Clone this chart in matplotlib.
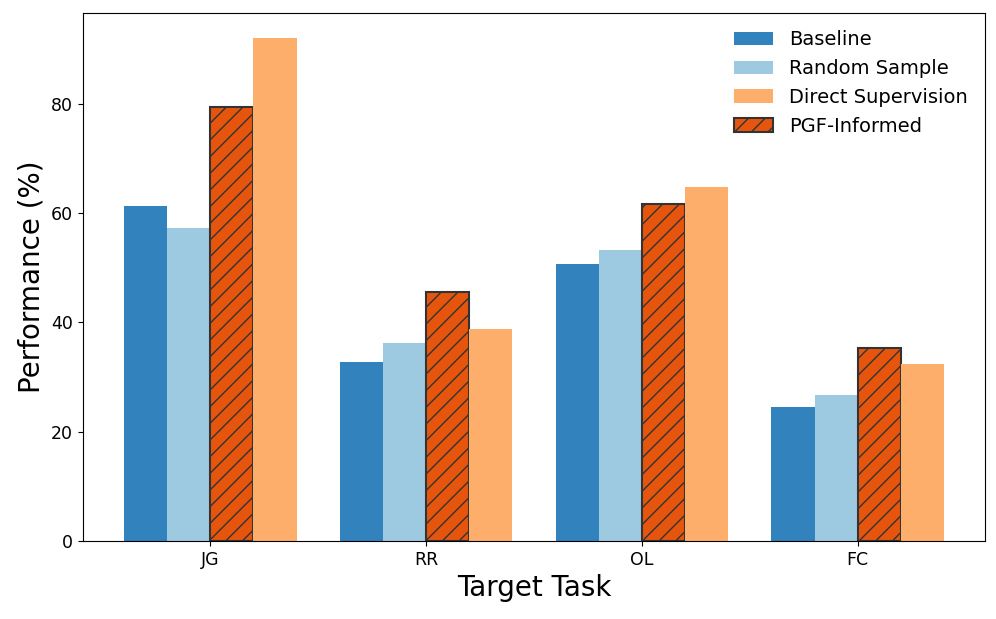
import numpy as np
import matplotlib.pyplot as plt

# data
tasks = ["JG", "RR", "OL", "FC"]
baseline = [61.3, 32.7, 50.7, 24.5]
random_sample = [57.3, 36.3, 53.2, 26.7]
pgf_informed = [79.4, 45.5, 61.6, 35.3]
direct_sup = [92.0, 38.7, 64.7, 32.3]

COLORS = {
    "baseline": "#3182bd",
    "random": "#9ecae1",
    "direct": "#fdae6b",
    "pgf": "#e6550d",
}

fig, ax = plt.subplots(figsize=(9.96, 6.19), dpi=100)
fig.subplots_adjust(left=0.0833, right=0.989, bottom=0.126, top=0.979)

x = np.arange(len(tasks))
w = 0.2

b1 = ax.bar(x - 1.5 * w, baseline, w, color=COLORS["baseline"], label="Baseline")
b2 = ax.bar(x - 0.5 * w, random_sample, w, color=COLORS["random"], label="Random Sample")
b4 = ax.bar(x + 0.5 * w, pgf_informed, w, color=COLORS["pgf"], edgecolor="#333333",
            linewidth=1.5, hatch="//", label="PGF-Informed")
b3 = ax.bar(x + 1.5 * w, direct_sup, w, color=COLORS["direct"], label="Direct Supervision")

ax.set_xticks(x)
ax.set_xticklabels(tasks, fontsize=12.5)
ax.tick_params(axis="y", labelsize=12.5)
ax.set_xlabel("Target Task", fontsize=20)
ax.set_ylabel("Performance (%)", fontsize=20)

ax.legend(handles=[b1, b2, b3, b4], fontsize=14, frameon=False, loc="upper right")

plt.savefig("out.png", dpi=100)
plt.close()
